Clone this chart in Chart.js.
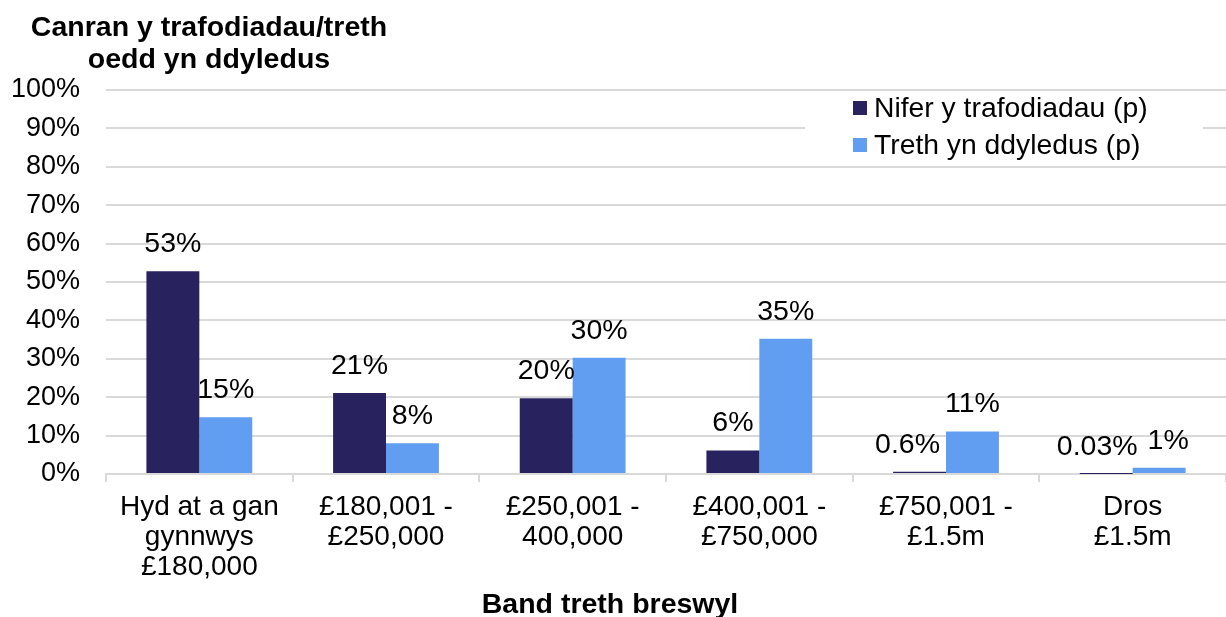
<!DOCTYPE html>
<html>
<head>
<meta charset="utf-8">
<script src="https://cdn.jsdelivr.net/npm/chart.js@4.4.1/dist/chart.umd.min.js"></script>
<style>
html,body{margin:0;padding:0;background:#fff;}
#wrap{width:1226px;height:617px;position:relative;}
</style>
</head>
<body>
<div id="wrap"><canvas id="c" width="1226" height="617"></canvas></div>
<script>
const categories = [
  ["Hyd at a gan", "gynnwys", "£180,000"],
  ["£180,001 -", "£250,000"],
  ["£250,001 -", "400,000"],
  ["£400,001 -", "£750,000"],
  ["£750,001 -", "£1.5m"],
  ["Dros", "£1.5m"]
];
const seriesNames = ["Nifer y trafodiadau (p)", "Treth yn ddyledus (p)"];
const transactions = [52.8, 21.1, 19.7, 6.1, 0.6, 0.03];
const taxDue = [14.8, 8.0, 30.3, 35.2, 11.1, 1.6];
const transactionLabels = ["53%", "21%", "20%", "6%", "0.6%", "0.03%"];
const taxDueLabels = ["15%", "8%", "30%", "35%", "11%", "1%"];
const yTicks = [0, 10, 20, 30, 40, 50, 60, 70, 80, 90, 100];
const yTitle = ["Canran y trafodiadau/treth", "oedd yn ddyledus"];
const xTitle = "Band treth breswyl";

const colors = ["#28235f", "#619ef2"];
const FONT = "'Liberation Sans', Arial, sans-serif";

const overlay = {
  id: 'overlay',
  beforeDatasetsDraw(chart) {
    const ctx = chart.ctx;
    ctx.save();
    ctx.fillStyle = '#fff';
    ctx.fillRect(805, 93, 398, 72);
    const rows = [108, 145];
    chart.data.datasets.forEach((ds, i) => {
      ctx.fillStyle = ds.backgroundColor;
      ctx.fillRect(853, rows[i] - 7, 14, 14);
      ctx.fillStyle = '#000';
      ctx.font = "28.3px " + FONT;
      ctx.textAlign = 'left';
      ctx.textBaseline = 'middle';
      ctx.fillText(ds.label, 874, rows[i] + 1);
    });
    ctx.restore();
  },
  afterDraw(chart, args, opts) {
    const ctx = chart.ctx;
    ctx.save();
    ctx.fillStyle = '#000';
    ctx.font = "bold 28.5px " + FONT;
    ctx.textAlign = 'center';
    ctx.textBaseline = 'alphabetic';
    ctx.fillText(yTitle[0], 209, 36);
    ctx.fillText(yTitle[1], 209, 68);
    ctx.fillText(xTitle, 610, 613);
    ctx.font = "28.5px " + FONT;
    ctx.textBaseline = 'middle';
    const labelSets = [transactionLabels, taxDueLabels];
    const nudge = opts.nudge || {};
    chart.data.datasets.forEach((ds, di) => {
      const meta = chart.getDatasetMeta(di);
      meta.data.forEach((bar, i) => {
        const dx = nudge[di + ':' + i] || 0;
        ctx.fillText(labelSets[di][i], bar.x + dx, bar.y - 27);
      });
    });
    ctx.restore();
  }
};

new Chart(document.getElementById('c'), {
  type: 'bar',
  data: {
    labels: categories,
    datasets: [
      { label: seriesNames[0], data: transactions, backgroundColor: colors[0] },
      { label: seriesNames[1], data: taxDue, backgroundColor: colors[1] }
    ]
  },
  options: {
    responsive: false,
    animation: false,
    devicePixelRatio: 1,
    layout: { padding: { top: 90, right: 0, left: 0, bottom: 0 } },
    datasets: { bar: { categoryPercentage: 0.567, barPercentage: 1.0 } },
    plugins: {
      legend: { display: false },
      tooltip: { enabled: false },
      title: { display: false },
      overlay: { nudge: { '0:4': -12, '0:5': -9, '1:5': 9 } }
    },
    scales: {
      x: {
        grid: { display: true, drawOnChartArea: false, drawTicks: true, tickLength: 8, offset: true, color: '#d9d9d9', lineWidth: 2 },
        border: { display: true, color: '#d9d9d9', width: 2 },
        ticks: { color: '#000', font: { family: FONT, size: 28, lineHeight: 1.07 }, padding: 10, maxRotation: 0, autoSkip: false },
        title: { display: false },
        afterFit(scale) { scale.height = 143; }
      },
      y: {
        min: 0, max: 100,
        afterBuildTicks(scale) { scale.ticks = yTicks.map(v => ({ value: v })); },
        grid: { color: '#d9d9d9', lineWidth: 2, drawTicks: false },
        border: { display: false },
        ticks: { color: '#000', font: { family: FONT, size: 27 }, padding: 26, callback: v => v + '%' },
        afterFit(scale) { scale.width = 106; }
      }
    }
  },
  plugins: [overlay]
});
</script>
</body>
</html>
